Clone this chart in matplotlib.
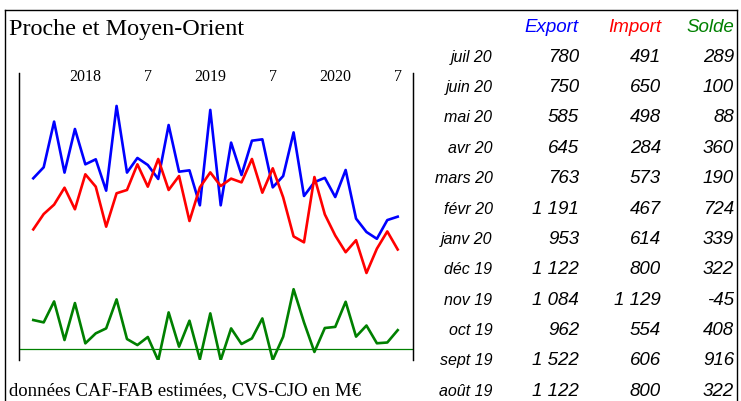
"""Proche et Moyen-Orient: monthly export / import / solde, with a table of the last 12 months."""

import numpy as np
import matplotlib.pyplot as plt
from matplotlib.lines import Line2D

W, H = 741, 401

# ── chart data (Aug 2017 .. Jul 2020, M€) ───────────────────────────
EXPORT = [1118, 1215, 1617, 1168, 1552, 1241, 1285, 1009, 1755, 1168, 1297, 1235,
          1112, 1587, 1176, 1188, 880, 1720, 880, 1432, 1147, 1449, 1461, 1038,
          1138, 1522, 962, 1084, 1122, 953, 1191, 763, 645, 585, 750, 780]
IMPORT = [668, 803, 886, 1035, 845, 1153, 1044, 692, 986, 1015, 1241, 1044,
          1288, 1015, 1138, 742, 1038, 1170, 1050, 1115, 1082, 1288, 991, 1206,
          950, 606, 554, 1129, 800, 614, 467, 573, 284, 498, 650, 491]
SOLDE = [444, 408, 729, 138, 704, 87, 240, 316, 760, 153, 61, 184,
         -176, 561, 36, 434, -158, 546, -170, 316, 77, 163, 469, -168,
         189, 916, 408, -45, 322, 339, 724, 190, 360, 88, 100, 289]

TICK_POS = [5, 11, 17, 23, 29, 35]
TICK_LABELS = ["2018", "7", "2019", "7", "2020", "7"]

# ── table data ──────────────────────────────────────────────────────
TAB_MONTHS = ["juil 20", "juin 20", "mai 20", "avr 20", "mars 20", "févr 20",
              "janv 20", "déc 19", "nov 19", "oct 19", "sept 19", "août 19"]
TAB_EXPORT = [780, 750, 585, 645, 763, 1191, 953, 1122, 1084, 962, 1522, 1122]
TAB_IMPORT = [491, 650, 498, 284, 573, 467, 614, 800, 1129, 554, 606, 800]
TAB_SOLDE = [289, 100, 88, 360, 190, 724, 339, 322, -45, 408, 916, 322]

BLUE, RED, GREEN = "#0000ff", "#ff0000", "#008000"
SERIF = "Liberation Serif"
SANS = "Liberation Sans"


def fx(px):
    return px / W


def fy(py):
    return 1 - py / H


def fmt(v):
    s = f"{abs(v):,}".replace(",", " ")
    return ("-" if v < 0 else "") + s


def main():
    fig = plt.figure(figsize=(W / 100, H / 100), dpi=100)

    # outer frame (open at the bottom)
    for xs, ys in [((4.5, 4.5), (401, 10)), ((4.5, 736.5), (10, 10)),
                   ((736.5, 736.5), (10, 401))]:
        fig.add_artist(Line2D([fx(x) for x in xs], [fy(y) for y in ys],
                              color="black", lw=1.0))

    fig.text(fx(9), fy(34.7), "Proche et Moyen-Orient", fontsize=17.4,
             family=SERIF, va="baseline", ha="left")
    fig.text(fx(9), fy(395.5), "données CAF-FAB estimées, CVS-CJO en M€",
             fontsize=13.5, family=SERIF, va="baseline", ha="left")

    # --- chart ---
    left, right, top, bottom = 18.7, 412.7, 73, 360
    ax = fig.add_axes([fx(left), fy(bottom), fx(right - left), (bottom - top) / H])
    x = np.arange(len(EXPORT))
    ax.plot(x, EXPORT, color=BLUE, lw=1.9)
    ax.plot(x, IMPORT, color=RED, lw=1.9)
    ax.set_xlim(-1.4, 36.44)
    ax.set_ylim(-482, 2045)

    ax2 = ax.twinx()
    ax2.plot(x, SOLDE, color=GREEN, lw=1.9)
    ax2.axhline(0, color=GREEN, lw=0.9)
    ax2.set_ylim(-168, 4227)

    for a in (ax, ax2):
        a.set_yticks([])
        a.spines["top"].set_visible(False)
        a.spines["bottom"].set_visible(False)
        a.spines["left"].set_linewidth(0.9)
        a.spines["right"].set_linewidth(0.9)
        a.patch.set_visible(False)
    ax.set_xticks([])
    for p, lab in zip(TICK_POS, TICK_LABELS):
        ax.text(p, 1 - (77 - top) / (bottom - top), lab, transform=ax.get_xaxis_transform(),
                ha="center", va="center", fontsize=11.5, family=SERIF)

    # --- table ---
    col_right = [579, 661, 734]
    colors = [BLUE, RED, GREEN]
    for cx, name, c in zip(col_right, ["Export", "Import", "Solde"], colors):
        fig.text(fx(cx), fy(27), name, color=c, fontsize=13.5, family=SANS,
                 style="italic", ha="right", va="center")

    for i, m in enumerate(TAB_MONTHS):
        yy = 57.3 + i * 30.35
        fig.text(fx(492.5), fy(yy), m, fontsize=11.5, family=SANS, style="italic",
                 ha="right", va="center")
        for cx, vals in zip(col_right, [TAB_EXPORT, TAB_IMPORT, TAB_SOLDE]):
            fig.text(fx(cx), fy(yy), fmt(vals[i]), fontsize=13.5, family=SANS,
                     style="italic", ha="right", va="center")

    fig.savefig("out.png", dpi=100)
    plt.close(fig)


if __name__ == "__main__":
    main()
